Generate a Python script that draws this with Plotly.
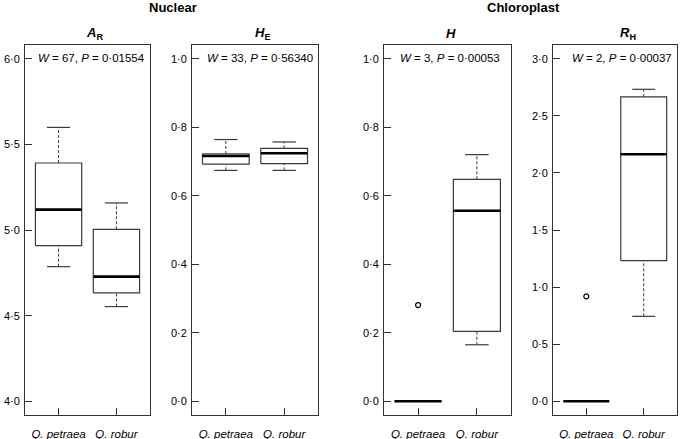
import plotly.graph_objects as go

W, H = 680, 439

categories = ["Q. petraea", "Q. robur"]

# five-number summaries: [lower whisker, Q1, median, Q3, upper whisker]
AR_petraea = [4.786, 4.909, 5.119, 5.391, 5.599]
AR_robur = [4.553, 4.633, 4.728, 5.004, 5.158]
HE_petraea = [0.674, 0.692, 0.716, 0.722, 0.764]
HE_robur = [0.674, 0.694, 0.724, 0.738, 0.757]
H_petraea = [0.0, 0.0, 0.0, 0.0, 0.0]
H_robur = [0.165, 0.204, 0.556, 0.648, 0.720]
RH_petraea = [0.0, 0.0, 0.0, 0.0, 0.0]
RH_robur = [0.744, 1.232, 2.163, 2.665, 2.732]

H_outliers_petraea = [0.281]
RH_outliers_petraea = [0.919]

AR_ticks = [4.0, 4.5, 5.0, 5.5, 6.0]
HE_ticks = [0.0, 0.2, 0.4, 0.6, 0.8, 1.0]
H_ticks = [0.0, 0.2, 0.4, 0.6, 0.8, 1.0]
RH_ticks = [0.0, 0.5, 1.0, 1.5, 2.0, 2.5, 3.0]

titles = ["<b><i>A</i><sub>R</sub></b>", "<b><i>H</i><sub>E</sub></b>",
          "<b><i>H</i></b>", "<b><i>R</i><sub>H</sub></b>"]
stats_text = ["<i>W</i> = 67, <i>P</i> = 0·01554",
              "<i>W</i> = 33, <i>P</i> = 0·56340",
              "<i>W</i> = 3, <i>P</i> = 0·00053",
              "<i>W</i> = 2, <i>P</i> = 0·00037"]
group_titles = ["Nuclear", "Chloroplast"]

panels = [
    dict(data=[AR_petraea, AR_robur], out=[[], []], ticks=AR_ticks, rng=[3.92, 6.08]),
    dict(data=[HE_petraea, HE_robur], out=[[], []], ticks=HE_ticks, rng=[-0.04, 1.04]),
    dict(data=[H_petraea, H_robur], out=[H_outliers_petraea, []], ticks=H_ticks, rng=[-0.04, 1.04]),
    dict(data=[RH_petraea, RH_robur], out=[RH_outliers_petraea, []], ticks=RH_ticks, rng=[-0.12, 3.12]),
]

# layout in pixels
panel_x = [(25, 150), (192, 318), (384, 511), (553, 677)]
top_px, bot_px = 45, 415
title_cx = [94, 262, 451, 628]
stat_cx = [91, 260, 450, 622]

def px(x):
    return x / W

def py(y):
    return 1 - y / H

FONT = "Liberation Sans, Arial, Helvetica, sans-serif"
BOXC = "#3a3a3a"

fig = go.Figure()
layout = dict(
    template="none",
    width=W, height=H, margin=dict(l=0, r=0, t=0, b=0, pad=0, autoexpand=False),
    paper_bgcolor="white", plot_bgcolor="white", showlegend=False,
    font=dict(family=FONT, size=11, color="black"),
)
annotations = []

for k, p in enumerate(panels):
    n = "" if k == 0 else str(k + 1)
    xa, ya = "x" + n, "y" + n
    layout["xaxis" + n] = dict(
        domain=[px(panel_x[k][0]), px(panel_x[k][1])], anchor=ya, automargin=False,
        range=[0.42, 2.58], tickvals=[1, 2],
        ticktext=["<i>%s</i>" % c for c in categories],
        ticks="inside", ticklen=7, tickcolor="#333", tickwidth=1,
        showline=True, mirror=True, linecolor="#333", linewidth=1,
        showgrid=False, zeroline=False, fixedrange=True,
        tickfont=dict(size=11.5), ticklabelstandoff=8,
    )
    layout["yaxis" + n] = dict(
        domain=[py(bot_px), py(top_px)], anchor=xa, automargin=False,
        range=p["rng"], tickvals=p["ticks"],
        ticktext=[("%.1f" % t).replace(".", "·") for t in p["ticks"]],
        ticks="inside", ticklen=7, tickcolor="#333", tickwidth=1,
        showline=True, mirror=True, linecolor="#333", linewidth=1,
        showgrid=False, zeroline=False, fixedrange=True,
        tickfont=dict(size=11), ticklabelstandoff=2,
    )
    for i, s in enumerate(p["data"]):
        pos = i + 1
        lo, q1, med, q3, hi = s
        # whiskers (dashed)
        for a, b in ((q3, hi), (lo, q1)):
            fig.add_trace(go.Scatter(x=[pos, pos], y=[a, b], mode="lines", xaxis=xa, yaxis=ya,
                                     line=dict(color=BOXC, width=1, dash="3px,2px"), hoverinfo="skip"))
        # caps
        for v in (lo, hi):
            fig.add_trace(go.Scatter(x=[pos - 0.2, pos + 0.2], y=[v, v], mode="lines", xaxis=xa, yaxis=ya,
                                     line=dict(color=BOXC, width=1.2), hoverinfo="skip"))
        # box
        fig.add_trace(go.Scatter(x=[pos - 0.4, pos + 0.4, pos + 0.4, pos - 0.4, pos - 0.4],
                                 y=[q1, q1, q3, q3, q1], mode="lines", xaxis=xa, yaxis=ya,
                                 fill="toself", fillcolor="white",
                                 line=dict(color=BOXC, width=1.2), hoverinfo="skip"))
        # median
        fig.add_trace(go.Scatter(x=[pos - 0.4, pos + 0.4], y=[med, med], mode="lines", xaxis=xa, yaxis=ya,
                                 line=dict(color="black", width=2.6), hoverinfo="skip"))
        # outliers
        if p["out"][i]:
            fig.add_trace(go.Scatter(x=[pos] * len(p["out"][i]), y=p["out"][i], mode="markers",
                                     xaxis=xa, yaxis=ya,
                                     marker=dict(symbol="circle-open", size=5, color="black",
                                                 line=dict(width=1.2, color="black")),
                                     hoverinfo="skip"))
    annotations.append(dict(text=titles[k], x=px(title_cx[k]), y=py(33), xref="paper", yref="paper",
                            showarrow=False, xanchor="center", yanchor="middle",
                            font=dict(size=13, family=FONT)))
    annotations.append(dict(text=stats_text[k], x=px(stat_cx[k]), y=py(58), xref="paper", yref="paper",
                            showarrow=False, xanchor="center", yanchor="middle",
                            font=dict(size=11.5, family=FONT)))

annotations.append(dict(text="<b>%s</b>" % group_titles[0], x=px(173), y=py(8), xref="paper", yref="paper",
                        showarrow=False, xanchor="center", yanchor="middle", font=dict(size=13, family=FONT)))
annotations.append(dict(text="<b>%s</b>" % group_titles[1], x=px(523), y=py(8), xref="paper", yref="paper",
                        showarrow=False, xanchor="center", yanchor="middle", font=dict(size=13, family=FONT)))

layout["annotations"] = annotations
fig.update_layout(**layout)
fig.write_html("out.html", config={"displayModeBar": False},
               post_script="document.body.style.margin='0';document.body.style.overflow='hidden';")
